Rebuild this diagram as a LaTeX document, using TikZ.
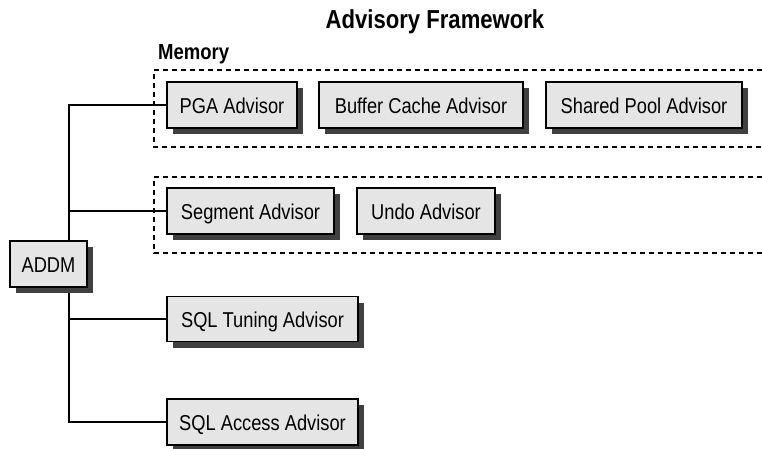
\documentclass[tikz,border=0pt]{standalone}
\usepackage{fontspec}
\setmainfont[FakeStretch=0.85]{Liberation Sans}
\usetikzlibrary{shadows,backgrounds}

\begin{document}
\begin{tikzpicture}[
	x=1pt,y=-1pt,
	advisor/.style={draw=black,fill=black!10,line width=1.2pt,inner sep=0pt,
		minimum height=46pt,font=\fontsize{21.5}{25}\selectfont,
		text height=17.4pt,text depth=0pt,
		drop shadow={shadow xshift=6pt,shadow yshift=-6pt,fill=black!75,opacity=1}},
	group/.style={dash pattern=on 5pt off 4pt,line width=1.3pt},
	link/.style={line width=1.7pt}
	]
	\useasboundingbox (0,0) rectangle (762,449);
	
	\node[anchor=base,font=\bfseries\fontsize{26}{30}\selectfont] (title) at (435,29) {Advisory Framework};
	\node[anchor=base west,inner sep=0pt,font=\bfseries\fontsize{21.8}{25}\selectfont] (memory) at (158,59.5) {Memory};
	
	% dashed groups, open to the right
	\draw[group] (762,70) -- (154,70) -- (154,147) -- (762,147);
	\draw[group] (762,177) -- (154,177) -- (154,253) -- (762,253);
	
	\node[advisor,minimum width=130pt] (pga) at (232,105) {PGA Advisor};
	\node[advisor,minimum width=204pt] (buffer) at (421,105) {Buffer Cache Advisor};
	\node[advisor,minimum width=196pt] (shared) at (644,105) {Shared Pool Advisor};
	\node[advisor,minimum width=167pt] (segment) at (250.5,211) {Segment Advisor};
	\node[advisor,minimum width=138pt] (undo) at (426,211) {Undo Advisor};
	\node[advisor,minimum width=77pt] (addm) at (48.5,264) {ADDM};
	\node[advisor,minimum width=191pt,minimum height=45pt] (sqltune) at (262.5,319) {SQL Tuning Advisor};
	\node[advisor,minimum width=191pt] (sqlaccess) at (262.5,422) {SQL Access Advisor};
	
	\coordinate (trunk) at (69,0);
	\begin{pgfonlayer}{background}
	\draw[link] (pga.west) -- (pga.west -| trunk) -- (sqlaccess.west -| trunk) -- (sqlaccess.west);
	\draw[link] (segment.west) -- (segment.west -| trunk);
	\draw[link] (sqltune.west) -- (sqltune.west -| trunk);
	\end{pgfonlayer}
\end{tikzpicture}
\end{document}
